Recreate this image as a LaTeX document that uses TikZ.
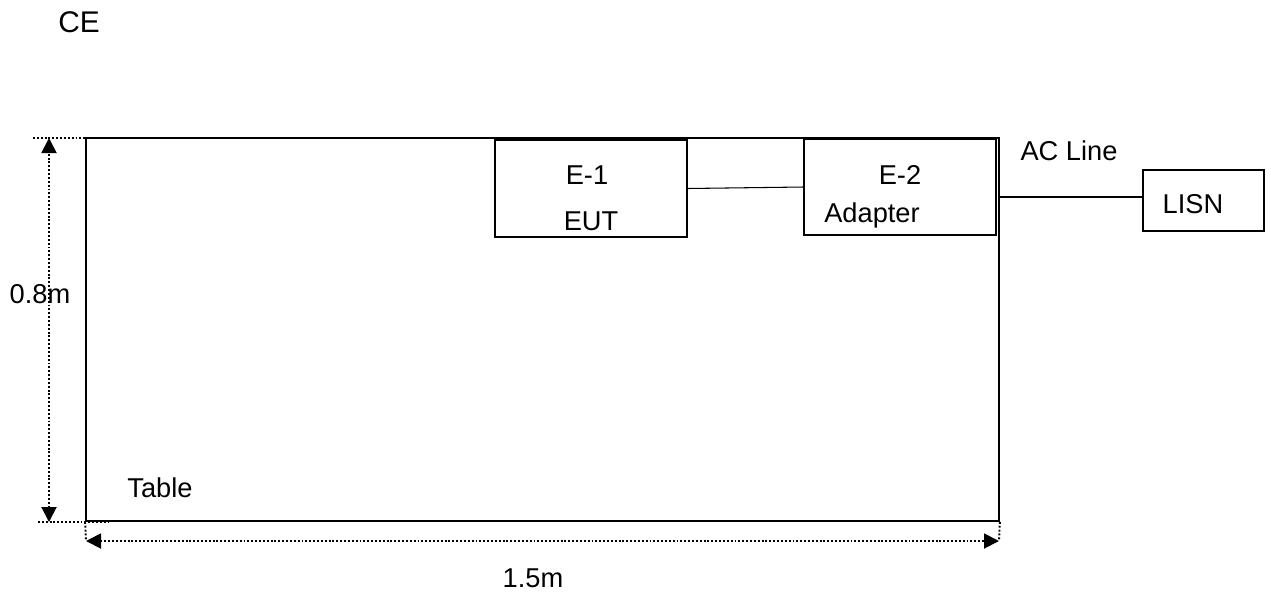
\documentclass[tikz,border=0pt]{standalone}
\usepackage{fontspec}
\setmainfont{Liberation Sans}
\usetikzlibrary{arrows.meta}

\tikzset{
    box/.style={draw, line width=0.7pt, inner sep=0pt},
    lbl/.style={anchor=base, inner sep=0pt, font=\fontsize{15.5}{18}\selectfont},
    dim/.style={line width=1.1pt, dash pattern=on 1.1pt off 1.1pt},
    dimtip/.style={{Triangle[length=0.3cm, width=0.3cm]}-{Triangle[length=0.3cm, width=0.3cm]}}
}

\begin{document}
\begin{tikzpicture}
    \useasboundingbox (0,0) rectangle (25.42,-12.14);
    % Draw the table
    \node[draw, line width=1pt, minimum width=18.26cm, minimum height=7.66cm] (table) at (10.85,-6.59) {};
    \node[lbl] (tablelbl) at (3.2,-9.94) {Table};
    \node[lbl, font=\fontsize{17}{20}\selectfont] (title) at (1.58,-0.64) {CE};
    % Draw the units
    \node[box, minimum width=3.84cm, minimum height=1.94cm] (eut) at (11.82,-3.77) {};
    \node[lbl] (eutid) at (11.74,-3.68) {E-1};
    \node[lbl] (eutname) at (11.82,-4.60) {EUT};
    \node[box, minimum width=3.84cm, minimum height=1.92cm] (adapter) at (18.0,-3.74) {};
    \node[lbl] (adapterid) at (18.0,-3.68) {E-2};
    \node[lbl] (adaptername) at (17.44,-4.44) {Adapter};
    \node[box, minimum width=2.42cm, minimum height=1.22cm] (lisn) at (24.07,-4.01) {};
    \node[lbl] (lisnlbl) at (23.86,-4.26) {LISN};
    \node[lbl] (acline) at (21.38,-3.20) {AC Line};
    % Cables
    \draw[line width=0.6pt] (eut.east) -- (adapter.west);
    \draw[line width=0.6pt] (table.east |- 0,-3.94) -- (lisn.west |- 0,-3.94);
    % Height of the table
    \coordinate (htop) at (0.98,-2.76);
    \coordinate (hbot) at (0.98,-10.44);
    \draw[dim] (0.66,-2.76) -- (2.06,-2.76);
    \draw[dim] (0.76,-10.44) -- (2.16,-10.44);
    \draw[dim, dimtip] (hbot) -- (htop);
    \node[lbl] (height) at (0.80,-6.06) {0.8m};
    % Length of the table
    \coordinate (lleft) at (1.72,-10.82);
    \coordinate (lright) at (19.98,-10.82);
    \draw[dim] (table.south west) -- (lleft);
    \draw[dim] (table.south east) -- (lright);
    \draw[dim, dimtip] (lleft) -- (lright);
    \node[lbl] (length) at (10.66,-11.74) {1.5m};
\end{tikzpicture}
\end{document}
